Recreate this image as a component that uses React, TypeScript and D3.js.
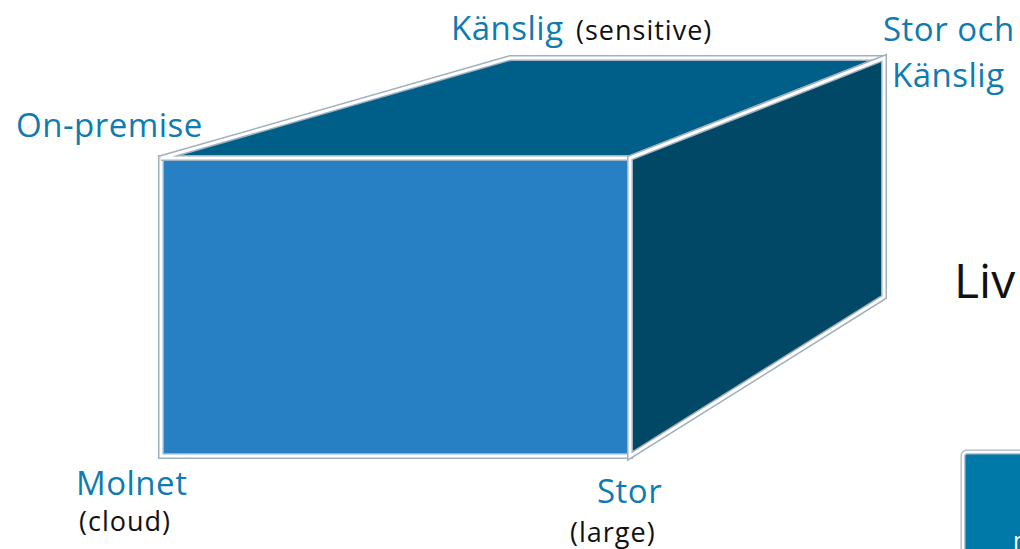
import React from 'react';
import * as d3 from 'd3';

// corners of the cube in unit coords: [size, location, depth]
// size: 0 = small, 1 = large ; location: 0 = on-premise, 1 = cloud ; depth: 0 = front, 1 = back (sensitive)
const faces = [
  { name: 'front', fill: '#2880c4', pts: [[0, 0, 0], [1, 0, 0], [1, 1, 0], [0, 1, 0]] },
  { name: 'top', fill: '#005f89', pts: [[0, 0, 0], [0, 0, 1], [1, 0, 1], [1, 0, 0]] },
  { name: 'right', fill: '#004866', pts: [[1, 0, 0], [1, 0, 1], [1, 1, 1], [1, 1, 0]] },
];

const blueLabels = ['Känslig', 'Stor och', 'Känslig', 'On-premise', 'Molnet', 'Stor'];
const blackLabels = ['(sensitive)', '(cloud)', '(large)'];
const sideText = 'Liv';

const W = 1020;
const H = 549;

const App = () => {
  // front face and back face scales (back face is smaller -> perspective)
  const xFront = d3.scaleLinear().domain([0, 1]).range([161, 630]);
  const yFront = d3.scaleLinear().domain([0, 1]).range([158, 456]);
  const xBack = d3.scaleLinear().domain([0, 1]).range([510, 884]);
  const yBack = d3.scaleLinear().domain([0, 1]).range([58, 297]);

  const project = (p: number[]): [number, number] => {
    const [s, l, d] = p;
    const xf = xFront(s), yf = yFront(l);
    const xb = xBack(s), yb = yBack(l);
    return [xf + (xb - xf) * d, yf + (yb - yf) * d];
  };

  const line = d3.line<[number, number]>().curve(d3.curveLinearClosed);

  const blue = '#0f7bb0';
  const font = "'Open Sans', sans-serif";

  return (
    <svg width={W} height={H} style={{ position: 'absolute', left: 0, top: 0, background: '#fff' }}>
      {faces.map(f => {
        const d = line(f.pts.map(project)) as string;
        return (
          <g key={f.name}>
            <path d={d} fill={f.fill} stroke="#9fb0be" strokeWidth={6} strokeLinejoin="miter" />
            <path d={d} fill="none" stroke="#ffffff" strokeWidth={3} strokeLinejoin="miter" />
          </g>
        );
      })}

      {/* partial box at bottom right */}
      <rect x={963} y={452} width={80} height={120} rx={4} fill="#0079a8" stroke="#a9b6c0" strokeWidth={5} />
      <rect x={963} y={452} width={80} height={120} rx={4} fill="none" stroke="#ffffff" strokeWidth={2.5} />
      <text x={1013} y={549} fill="#fff" fontFamily={font} fontSize={24}>n</text>

      <g fontFamily={font} fill={blue} fontSize={33} letterSpacing={0.5}>
        <text x={451} y={40}>{blueLabels[0]}</text>
        <text x={883} y={41}>{blueLabels[1]}</text>
        <text x={892} y={87}>{blueLabels[2]}</text>
        <text x={16} y={137}>{blueLabels[3]}</text>
        <text x={76} y={495}>{blueLabels[4]}</text>
        <text x={597} y={503}>{blueLabels[5]}</text>
      </g>
      <g fontFamily={font} fill="#111" fontSize={27} letterSpacing={1}>
        <text x={576} y={40}>{blackLabels[0]}</text>
        <text x={79} y={531}>{blackLabels[1]}</text>
        <text x={570} y={542}>{blackLabels[2]}</text>
      </g>
      <text x={954} y={298} fontFamily={font} fontSize={48} fill="#111">{sideText}</text>
    </svg>
  );
};

export default App;
